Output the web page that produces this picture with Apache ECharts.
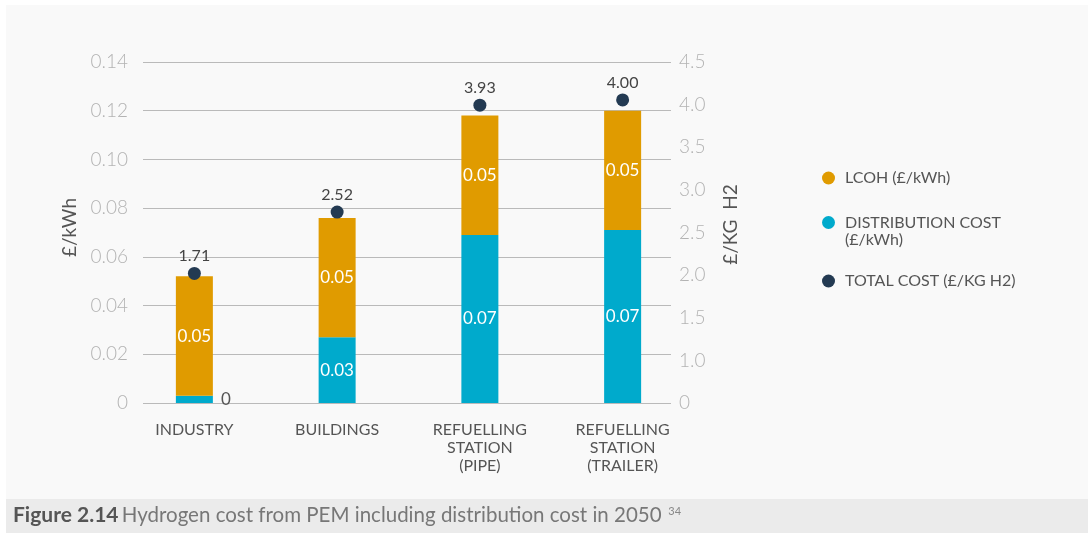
<!DOCTYPE html>
<html>
<head>
<meta charset="utf-8">
<script src="https://cdn.jsdelivr.net/npm/echarts@6/dist/echarts.min.js"></script>
<style>
  html, body { margin: 0; padding: 0; background: #fff; }
  #chart { width: 1088px; height: 533px; }
</style>
</head>
<body>
<div id="chart"></div>
<script>
// Hydrogen cost by end use, 2050
const categories = ['INDUSTRY', 'BUILDINGS', 'REFUELLING\nSTATION\n(PIPE)', 'REFUELLING\nSTATION\n(TRAILER)'];
const distributionCost = [0.003, 0.027, 0.069, 0.071];   // £/kWh
const lcoh = [0.049, 0.049, 0.049, 0.049];                // £/kWh
const totalCost = [1.71, 2.52, 3.93, 4.00];               // £/kg H2

const leftTicks = { min: 0, max: 0.14, interval: 0.02 };
const rightMax = 4.5;
const rightTickLabels = ['0', '1.0', '1.5', '2.0', '2.5', '3.0', '3.5', '4.0', '4.5'];

const NAME_LCOH = 'LCOH (£/kWh)';
const NAME_DIST = 'DISTRIBUTION COST (£/kWh)';
const NAME_TOTAL = 'TOTAL COST (£/KG H2)';

const C_LCOH = '#e09b00';
const C_DIST = '#00aacc';
const C_TOTAL = '#233a52';
const FONT = 'Lato';

const rightStep = rightMax / (rightTickLabels.length - 1);
const fmt2 = v => String(Number(v.toFixed(2)));

const chart = echarts.init(document.getElementById('chart'), null, { renderer: 'canvas' });

const legendBase = {
  orient: 'vertical', left: 822, padding: 0,
  icon: 'circle', itemWidth: 13, itemHeight: 13,
  textStyle: { color: '#555', fontSize: 16, fontFamily: FONT, lineHeight: 17, padding: [0, 0, 0, 5] }
};

chart.setOption({
  backgroundColor: '#fff',
  textStyle: { fontFamily: FONT },
  animation: false,
  graphic: [
    { type: 'rect', z: -10, shape: { x: 6, y: 5, width: 1082, height: 494 }, style: { fill: '#f9f9f9' } },
    { type: 'rect', z: -10, shape: { x: 6, y: 499, width: 1082, height: 34 }, style: { fill: '#ebebeb' } },
    {
      type: 'text', left: 13, top: 505,
      style: {
        text: '{b|Figure 2.14} {n|Hydrogen cost from PEM including distribution cost in 2050}  {s|34}',
        rich: {
          b: { fontFamily: FONT, fontSize: 21, fontWeight: 'bold', fill: '#555' },
          n: { fontFamily: FONT, fontSize: 20.5, fill: '#777' },
          s: { fontFamily: FONT, fontSize: 11, fill: '#888', padding: [0, 0, 9, 0] }
        }
      }
    }
  ],
  legend: [
    Object.assign({}, legendBase, { top: 169.5, data: [NAME_LCOH] }),
    Object.assign({}, legendBase, {
      top: 197, data: [NAME_DIST],
      // blank first line keeps the icon level with the first text line
      formatter: () => '\nDISTRIBUTION COST\n(£/kWh)'
    }),
    Object.assign({}, legendBase, { top: 272.5, data: [NAME_TOTAL] })
  ],
  grid: [
    // grid carrying gridlines and visible value axes
    { left: 143, right: 417, top: 62, bottom: 130 },
    // grid carrying the category bands, bars and markers
    { left: 123, right: 394, top: 62, bottom: 130 }
  ],
  xAxis: [
    { type: 'value', gridIndex: 0, min: 0, max: 1, show: false },
    {
      type: 'category', gridIndex: 1, data: categories,
      axisLine: { show: false }, axisTick: { show: false },
      axisLabel: { color: '#555', fontSize: 16, fontFamily: FONT, lineHeight: 18, margin: 18, interval: 0 }
    }
  ],
  yAxis: [
    {
      type: 'value', gridIndex: 0, position: 'left',
      min: leftTicks.min, max: leftTicks.max, interval: leftTicks.interval,
      name: '£/kWh', nameLocation: 'middle', nameGap: 64, nameRotate: 90,
      nameTextStyle: { color: '#555', fontSize: 19, fontFamily: FONT, padding: [0, 0, 0, 10] },
      axisLine: { show: false }, axisTick: { show: false },
      axisLabel: {
        color: '#b3b3b3', fontSize: 19, fontFamily: FONT, fontWeight: 300, margin: 15,
        formatter: v => (v === 0 ? '0' : v.toFixed(2))
      },
      splitLine: { show: true, lineStyle: { color: '#bababa', width: 1 } }
    },
    {
      type: 'value', gridIndex: 0, position: 'right',
      min: 0, max: rightMax, interval: rightStep,
      name: '£/KG  H2', nameLocation: 'middle', nameGap: 50, nameRotate: 90,
      nameTextStyle: { color: '#555', fontSize: 19, fontFamily: FONT, padding: [0, 0, 0, 16] },
      axisLine: { show: false }, axisTick: { show: false },
      axisLabel: {
        color: '#b3b3b3', fontSize: 19, fontFamily: FONT, fontWeight: 300, margin: 8,
        formatter: v => rightTickLabels[Math.round(v / rightStep)]
      },
      splitLine: { show: false }
    },
    { type: 'value', gridIndex: 1, min: leftTicks.min, max: leftTicks.max, show: false, splitLine: { show: false } },
    { type: 'value', gridIndex: 1, min: 0, max: rightMax, show: false, splitLine: { show: false } }
  ],
  series: [
    {
      name: NAME_DIST, type: 'bar', stack: 'cost', xAxisIndex: 1, yAxisIndex: 2,
      barWidth: 37, itemStyle: { color: C_DIST },
      data: distributionCost.map((v, i) => {
        const item = { value: v };
        if (i === 0) {
          item.label = { position: 'right', distance: 8, color: '#555' };
        }
        return item;
      }),
      label: {
        show: true, position: 'inside', color: '#fff', fontSize: 17, fontFamily: FONT,
        formatter: p => fmt2(p.value)
      }
    },
    {
      name: NAME_LCOH, type: 'bar', stack: 'cost', xAxisIndex: 1, yAxisIndex: 2,
      barWidth: 37, itemStyle: { color: C_LCOH },
      data: lcoh,
      label: {
        show: true, position: 'inside', color: '#fff', fontSize: 17, fontFamily: FONT,
        formatter: p => fmt2(p.value)
      }
    },
    {
      name: NAME_TOTAL, type: 'scatter', xAxisIndex: 1, yAxisIndex: 3,
      symbol: 'circle', symbolSize: 13, itemStyle: { color: C_TOTAL, opacity: 1 },
      data: totalCost,
      z: 5,
      label: {
        show: true, position: 'top', distance: 3, color: '#444', fontSize: 16, fontFamily: FONT,
        formatter: p => p.value.toFixed(2)
      }
    }
  ]
});
</script>
</body>
</html>
